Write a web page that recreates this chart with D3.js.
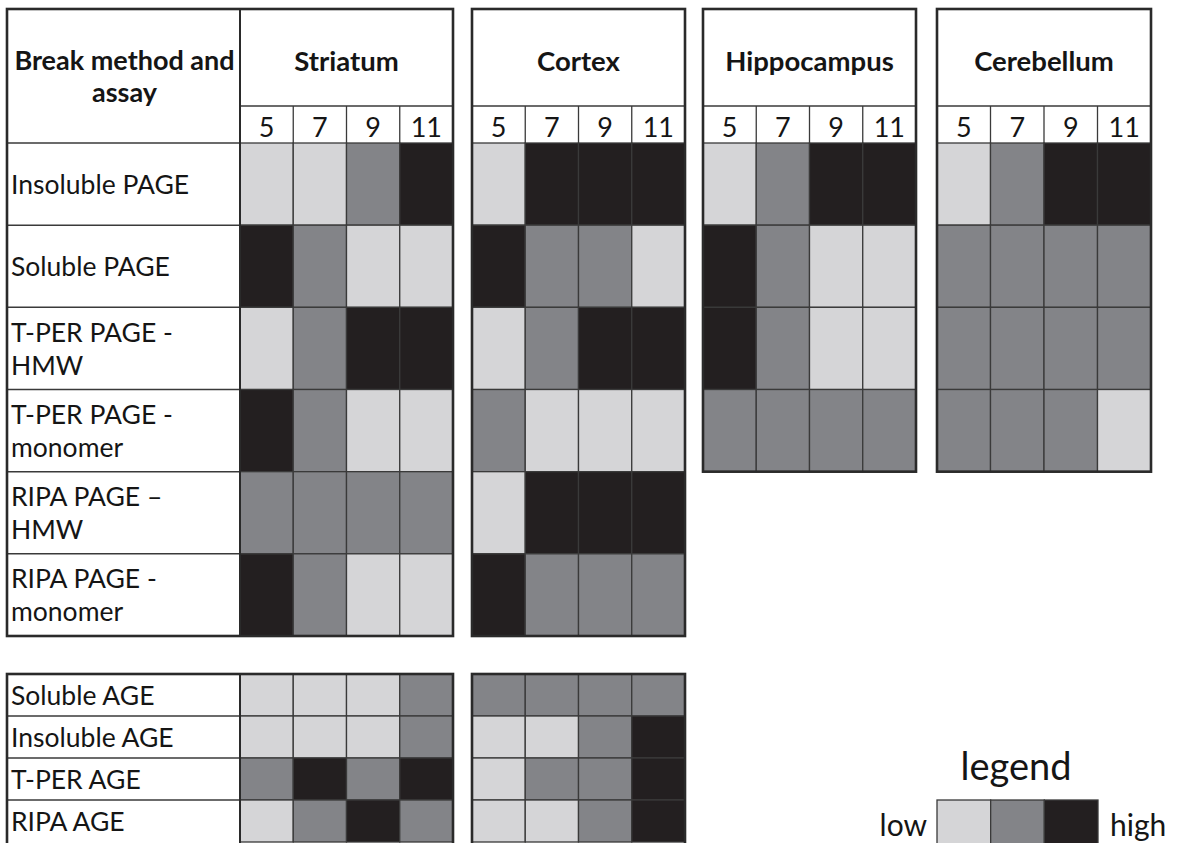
<!DOCTYPE html>
<html>
<head>
<meta charset="utf-8">
<script src="https://cdn.jsdelivr.net/npm/d3@7"></script>
<style>
  body { margin: 0; background: #fff; }
  text { font-family: Lato, "Open Sans", sans-serif; fill: #151515; }
</style>
</head>
<body>
<div id="chart"></div>
<script>
// data: 0 = low, 1 = mid, 2 = high
var weeks = ["5", "7", "9", "11"];
var levels = ["low", "mid", "high"];
var pageAssays = [["Insoluble PAGE"], ["Soluble PAGE"], ["T-PER PAGE -", "HMW"],
      ["T-PER PAGE -", "monomer"], ["RIPA PAGE –", "HMW"], ["RIPA PAGE -", "monomer"]];
var ageAssays = ["Soluble AGE", "Insoluble AGE", "T-PER AGE", "RIPA AGE"];

var striatumPage = [[0, 0, 1, 2], [2, 1, 0, 0], [0, 1, 2, 2], [2, 1, 0, 0], [1, 1, 1, 1], [2, 1, 0, 0]];
var cortexPage = [[0, 2, 2, 2], [2, 1, 1, 0], [0, 1, 2, 2], [1, 0, 0, 0], [0, 2, 2, 2], [2, 1, 1, 1]];
var hippocampusPage = [[0, 1, 2, 2], [2, 1, 0, 0], [2, 1, 0, 0], [1, 1, 1, 1]];
var cerebellumPage = [[0, 1, 2, 2], [1, 1, 1, 1], [1, 1, 1, 1], [1, 1, 1, 0]];
var striatumAge = [[0, 0, 0, 1], [0, 0, 0, 1], [1, 2, 1, 2], [0, 1, 2, 1]];
var cortexAge = [[1, 1, 1, 1], [0, 0, 1, 2], [0, 1, 1, 2], [0, 0, 1, 2]];

var width = 1177, height = 843;
var color = d3.scaleOrdinal().domain([0, 1, 2]).range(["#d5d5d7", "#838488", "#231f20"]);

var svg = d3.select('#chart').append('svg')
      .attr('width', width)
      .attr('height', height);

//layout
var labelX = [7, 240];
var topY = 9, titleY = 106, headY = 143;
var pageBottom = 636, ageTop = 674, ageBottom = 846;
var panels = [
      { name: "Striatum", x: [240, 453], page: striatumPage, age: striatumAge },
      { name: "Cortex", x: [472, 685], page: cortexPage, age: cortexAge },
      { name: "Hippocampus", x: [703, 916], page: hippocampusPage },
      { name: "Cerebellum", x: [937, 1151], page: cerebellumPage }
];

var pageY = d3.scaleBand().domain(d3.range(pageAssays.length)).range([headY, pageBottom]);
var ageY = d3.scaleBand().domain(d3.range(ageAssays.length)).range([ageTop, ageTop + 4 * 42]);

function drawCells(g, x, y, rows) {
      rows.forEach(function (row, i) {
            g.selectAll(null)
                  .data(row)
                  .enter().append('rect')
                  .attr('x', function (d, j) { return x(weeks[j]); })
                  .attr('y', y(i))
                  .attr('width', x.bandwidth())
                  .attr('height', y.bandwidth())
                  .style('fill', function (d) { return color(d); })
                  .style('stroke', '#3a3a3a')
                  .style('stroke-width', 1.3);
      });
}

function box(x0, y0, x1, y1) {
      svg.append('rect')
            .attr('x', x0).attr('y', y0)
            .attr('width', x1 - x0).attr('height', y1 - y0)
            .style('fill', 'none')
            .style('stroke', '#2a2a2a')
            .style('stroke-width', 2.6);
}

function hline(x0, x1, y) {
      svg.append('line').attr('x1', x0).attr('x2', x1).attr('y1', y).attr('y2', y)
            .style('stroke', '#3a3a3a').style('stroke-width', 1.5);
}

//row labels, top block
pageAssays.forEach(function (lines, i) {
      var cy = pageY(i) + pageY.bandwidth() / 2;
      var off = (lines.length - 1) * 16.5;
      lines.forEach(function (t, k) {
            svg.append('text')
                  .attr('x', labelX[0] + 4)
                  .attr('y', cy - off + k * 33)
                  .attr('dominant-baseline', 'central')
                  .style('font-size', '26.5px')
                  .text(t);
      });
      hline(labelX[0], labelX[1], pageY(i));
});
ageAssays.forEach(function (t, i) {
      svg.append('text')
            .attr('x', labelX[0] + 4)
            .attr('y', ageY(i) + ageY.bandwidth() / 2)
            .attr('dominant-baseline', 'central')
            .style('font-size', '26.5px')
            .text(t);
      if (i > 0) hline(labelX[0], labelX[1], ageY(i));
});

//header of label column
svg.append('text')
      .attr('text-anchor', 'middle')
      .style('font-size', '27px')
      .style('font-weight', 'bold')
      .selectAll('tspan')
      .data(["Break method and", "assay"])
      .enter().append('tspan')
      .attr('x', (labelX[0] + labelX[1]) / 2 + 1)
      .attr('y', function (d, i) { return 70 + i * 32; })
      .text(function (d) { return d; });

//panels
panels.forEach(function (p) {
      var x = d3.scaleBand().domain(weeks).range(p.x);
      var g = svg.append('g');
      var bottom = pageY(p.page.length - 1) + pageY.bandwidth();

      g.append('text')
            .attr('x', (p.x[0] + p.x[1]) / 2)
            .attr('y', 60)
            .attr('text-anchor', 'middle')
            .attr('dominant-baseline', 'central')
            .style('font-size', '27.5px')
            .style('font-weight', 'bold')
            .text(p.name);

      hline(p.x[0], p.x[1], titleY);
      g.selectAll('.wk')
            .data(weeks)
            .enter().append('text')
            .attr('x', function (d) { return x(d) + x.bandwidth() / 2; })
            .attr('y', 126)
            .attr('text-anchor', 'middle')
            .attr('dominant-baseline', 'central')
            .style('font-size', '27px')
            .text(function (d) { return d; });
      g.selectAll('.wl')
            .data(weeks.slice(1))
            .enter().append('line')
            .attr('x1', function (d) { return x(d); })
            .attr('x2', function (d) { return x(d); })
            .attr('y1', titleY).attr('y2', headY)
            .style('stroke', '#3a3a3a').style('stroke-width', 1.3);

      drawCells(g, x, pageY, p.page);
      if (p.age) drawCells(g, x, ageY, p.age);

      if (p.name === "Striatum") {
            box(labelX[0], topY, p.x[1], pageBottom);
            box(labelX[0], ageTop, p.x[1], ageBottom);
            svg.append('line').attr('x1', p.x[0]).attr('x2', p.x[0]).attr('y1', topY).attr('y2', pageBottom)
                  .style('stroke', '#2a2a2a').style('stroke-width', 2);
            svg.append('line').attr('x1', p.x[0]).attr('x2', p.x[0]).attr('y1', ageTop).attr('y2', ageBottom)
                  .style('stroke', '#2a2a2a').style('stroke-width', 2);
      } else {
            box(p.x[0], topY, p.x[1], bottom);
            if (p.age) box(p.x[0], ageTop, p.x[1], ageBottom);
      }
});

//legend
var lx = d3.scaleBand().domain(d3.range(levels.length)).range([937, 1098]);
svg.append('text')
      .attr('x', 1016).attr('y', 780)
      .attr('text-anchor', 'middle')
      .style('font-size', '38px')
      .text('legend');
svg.selectAll('.leg')
      .data(d3.range(levels.length))
      .enter().append('rect')
      .attr('x', function (d) { return lx(d); })
      .attr('y', 800)
      .attr('width', lx.bandwidth())
      .attr('height', 50)
      .style('fill', function (d) { return color(d); })
      .style('stroke', '#3a3a3a')
      .style('stroke-width', 1.3);
svg.append('text')
      .attr('x', 927).attr('y', 836)
      .attr('text-anchor', 'end')
      .style('font-size', '30px')
      .text(levels[0]);
svg.append('text')
      .attr('x', 1110).attr('y', 836)
      .style('font-size', '30px')
      .text(levels[2]);
</script>
</body>
</html>
